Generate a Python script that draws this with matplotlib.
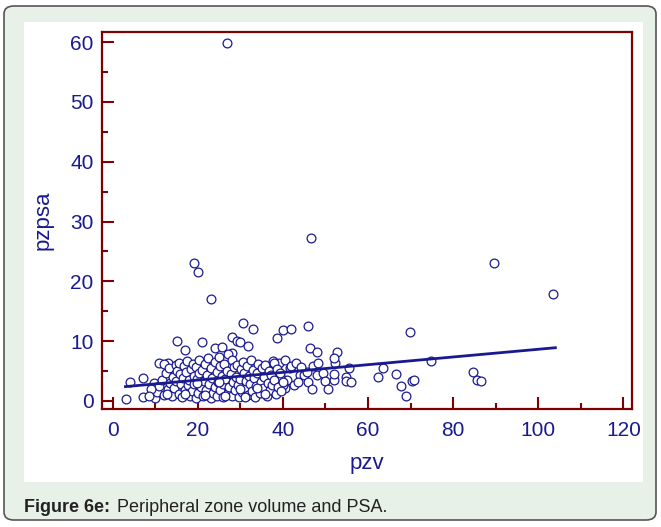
import matplotlib.pyplot as plt
import numpy as np
from matplotlib.patches import FancyBboxPatch, Rectangle
from matplotlib.ticker import MultipleLocator

# peripheral zone volume (pzv) and psa (pzpsa)
pzv = [
    # outliers / sparse points
    26.9, 46.7, 89.5, 103.4, 19.1, 20.0, 23.1,
    30.7, 33.0, 40.0, 41.9, 45.8, 38.6, 28.0, 29.2, 30.0, 31.9, 28.0,
    24.1, 25.6, 15.1, 17.0, 20.9, 46.4, 47.9, 52.6, 52.2, 52.0, 55.6,
    63.4, 62.4, 66.5, 67.7, 69.0, 70.4, 70.7, 74.7, 69.8, 84.7, 85.6, 86.6,
    3.1, 4.1, 7.1, 7.1, 10.0, 9.6, 11.0, 13.1,
    # 40-57 cluster
    41.7, 40.9, 40.5, 42.5, 44.1, 45.0, 46.0, 46.8, 48.0, 49.5, 50.0, 50.7,
    51.9, 51.9, 54.7, 54.9, 56.0, 39.4, 40.1, 43.6, 45.6,
    39.0, 40.5, 42.0, 43.0, 44.2, 47.0, 48.3, 36.5, 37.6,
    # dense cluster 10-40
    10.5, 11.0, 11.5, 12.0, 12.5, 12.0, 13.0, 13.5, 13.2, 14.0, 14.2, 14.5,
    14.8, 15.0, 15.2, 15.5, 15.5, 15.8,
    16.0, 16.3, 16.5, 16.8, 17.0, 17.2, 17.5, 17.6, 18.0, 18.2, 18.4, 18.6,
    18.8, 19.0, 19.2, 19.5, 19.6, 19.8, 20.0, 20.2, 20.3,
    20.8, 21.0, 21.2, 21.5, 21.7, 22.0, 22.2, 22.5, 22.6, 23.0, 23.0, 23.4,
    23.6, 24.0, 24.1, 24.4, 24.6, 24.8, 25.0, 25.2, 25.3,
    25.6, 25.9, 26.0, 26.2, 26.5, 26.8, 27.0, 27.2, 27.4, 27.7, 28.0, 28.0,
    28.3, 28.5, 28.8, 29.0, 29.2, 29.5, 29.6, 30.0, 30.1,
    30.4, 30.6, 30.8, 31.0, 31.3, 31.6, 31.8, 32.0, 32.3, 32.5, 32.8, 33.0,
    33.2, 33.5, 33.7, 34.0, 34.2, 34.5, 34.8, 35.0,
    35.3, 35.6, 35.9, 36.2, 36.4, 36.7, 37.0, 37.2, 37.5, 37.8, 38.0, 38.3,
    38.6, 38.9, 39.2, 39.6, 40.0,
    9.0, 8.5, 12.8, 16.9, 21.8, 26.4, 31.2, 35.7, 19.9, 24.9, 29.9, 33.9,
]
pzpsa = [
    59.9, 27.3, 23.1, 17.9, 23.0, 21.5, 17.0,
    13.0, 12.0, 11.8, 12.1, 12.6, 10.5, 10.7, 10.1, 9.8, 9.2, 8.0,
    8.8, 9.1, 10.1, 8.6, 9.9, 8.9, 8.2, 8.2, 6.4, 7.2, 5.5,
    5.5, 4.0, 4.5, 2.5, 0.8, 3.3, 3.5, 6.6, 11.5, 4.8, 3.5, 3.3,
    0.4, 3.2, 3.8, 0.7, 0.45, 3.0, 6.3, 6.3,
    5.5, 3.5, 2.1, 2.7, 4.3, 4.3, 3.2, 2.0, 4.3, 4.6, 3.3, 2.0,
    3.5, 4.5, 4.0, 3.4, 3.2, 4.1, 2.7, 3.2, 4.9,
    6.3, 6.8, 5.9, 6.4, 5.6, 5.8, 6.4, 5.2, 6.6,
    1.5, 2.5, 3.5, 1.0, 4.6, 6.2, 2.0, 3.0, 5.5, 0.8, 4.0, 2.2,
    6.0, 3.3, 5.0, 1.2, 6.4, 4.5,
    2.8, 0.6, 3.8, 5.8, 1.9, 4.9, 6.6, 2.6, 3.5, 0.9, 5.3, 1.6,
    6.2, 4.2, 2.9, 0.5, 5.6, 3.6, 1.3, 6.8, 4.7,
    2.4, 5.2, 0.8, 3.4, 6.1, 1.8, 4.4, 7.1, 2.9, 0.5, 5.5, 3.9,
    1.4, 6.5, 2.3, 4.9, 0.9, 3.2, 7.4, 5.8, 1.9,
    4.2, 2.8, 0.6, 6.2, 3.6, 5.0, 1.3, 7.9, 2.4, 4.5, 6.8, 0.9,
    3.1, 5.6, 1.8, 4.0, 6.0, 2.6, 0.7, 3.7, 5.3,
    1.5, 6.5, 4.6, 2.2, 3.4, 5.9, 1.0, 4.2, 2.9, 6.8, 1.7, 5.1,
    3.8, 0.6, 2.5, 4.6, 6.2, 1.3, 3.2, 5.5,
    2.1, 4.0, 6.0, 0.9, 3.0, 5.0, 1.8, 4.3, 2.6, 6.3, 3.5, 1.2,
    5.4, 2.3, 4.7, 1.6, 3.2,
    2.0, 0.9, 1.2, 1.1, 1.0, 0.8, 0.7, 1.1, 3.0, 3.1, 2.0, 2.1,
]

# fitted regression line
fit_x = [3.0, 104.0]
fit_intercept = 2.2
fit_slope = 0.0644

navy = '#1a1a90'
dark_red = '#7f0000'

fig = plt.figure(figsize=(6.61, 5.27), dpi=100)
fig.patch.set_facecolor('white')

# rounded light-green frame with white inner panel
frame = FancyBboxPatch((4 / 661, 7 / 527), 652 / 661, 514 / 527,
                       boxstyle='round,pad=0,rounding_size=0.015',
                       transform=fig.transFigure, facecolor='#e7f1e7',
                       edgecolor='#555555', linewidth=1.2, zorder=-2)
fig.patches.append(frame)
panel = Rectangle((24 / 661, 45 / 527), 619 / 661, 460 / 527,
                  transform=fig.transFigure, facecolor='white',
                  edgecolor='none', zorder=-1)
fig.patches.append(panel)

ax = fig.add_axes([102 / 661, 1 - 409 / 527, 530 / 661, 377 / 527])
ax.set_facecolor('white')

ax.scatter(pzv, pzpsa, s=40, facecolors='white', edgecolors=navy,
           linewidths=0.9, zorder=3)
fit_x = np.array(fit_x)
ax.plot(fit_x, fit_intercept + fit_slope * fit_x, color=navy, lw=2.0, zorder=4)

ax.set_xlim(-2.5, 122)
ax.set_ylim(-1.35, 61.7)
ax.xaxis.set_major_locator(MultipleLocator(20))
ax.xaxis.set_minor_locator(MultipleLocator(10))
ax.yaxis.set_major_locator(MultipleLocator(10))
ax.yaxis.set_minor_locator(MultipleLocator(5))

for s in ax.spines.values():
    s.set_color(dark_red)
    s.set_linewidth(1.6)

ax.tick_params(which='both', direction='in', color=dark_red, width=1.5,
               labelcolor=navy, labelsize=15)
ax.tick_params(which='major', length=8.5)
ax.tick_params(which='minor', length=4.5)
ax.tick_params(axis='x', pad=9)
ax.tick_params(axis='y', pad=6)
for lab in ax.get_xticklabels() + ax.get_yticklabels():
    lab.set_family('Liberation Sans')

ax.set_xlabel('pzv', color=navy, fontsize=16, family='Liberation Sans', labelpad=9)
ax.set_ylabel('pzpsa', color=navy, fontsize=16, family='Liberation Sans', labelpad=12)

fig.text(24 / 661, 1 - 507 / 527, 'Figure 6e:', fontsize=13, fontweight='bold',
         family='Liberation Sans', color='#222222', va='center')
fig.text(117 / 661, 1 - 507 / 527, 'Peripheral zone volume and PSA.', fontsize=13,
         family='Liberation Sans', color='#222222', va='center')

fig.savefig('out.png', dpi=100)
